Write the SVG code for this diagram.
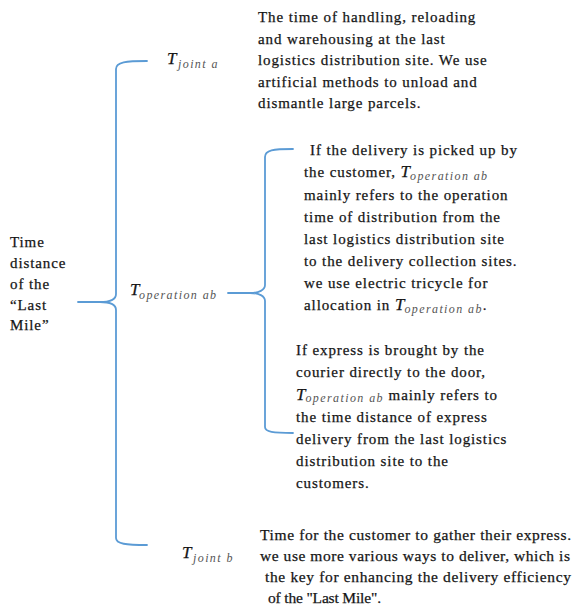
<svg xmlns="http://www.w3.org/2000/svg" width="575" height="608" viewBox="0 0 575 608">
<style>
.t{font-family:"Liberation Serif","Times New Roman",serif;font-size:15px;fill:#151515;stroke:#151515;stroke-width:0.25px;letter-spacing:0.9px}
.p4{font-size:15.5px;letter-spacing:0}
.m{font-family:"Liberation Serif","Times New Roman",serif;font-style:italic;font-size:17px;fill:#151515;stroke:#151515;stroke-width:0.25px;letter-spacing:0}
.s{font-family:"Liberation Serif","Times New Roman",serif;font-style:italic;font-size:12px;fill:#555;stroke:none;letter-spacing:1.4px}
.b{fill:none;stroke:#5b9bd5;stroke-width:1.8;stroke-linecap:round;stroke-linejoin:round}
</style>
<rect width="575" height="608" fill="#fff"/>
<g id="connectors">
<path class="b" d="M147,61 C126,61 116,62 116,69 L116,294 C116,299 110,302 100,302 L78,302 M100,302 C110,302 116,305 116,310 L116,538 C116,544 126,545 147,545"/>
<path class="b" d="M293,149 C273,149 265,150 265,157 L265,285 C265,290 259,293 250,293 L228,293 M250,293 C259,293 265,296 265,301 L265,427 C265,432 273,433 293,433"/>
</g>
<g id="root">
<text class="t"><tspan x="10" y="247">Time</tspan><tspan x="10" y="268">distance</tspan><tspan x="10" y="289">of the</tspan><tspan x="10" y="309.5">“Last</tspan><tspan x="10" y="330">Mile”</tspan></text>
</g>
<g id="t-joint-a">
<text x="167" y="64"><tspan class="m">T</tspan><tspan class="s" x="178" y="68">joint a</tspan></text>
</g>
<g id="t-operation-ab">
<text x="130" y="295"><tspan class="m">T</tspan><tspan class="s" x="139" y="299">operation ab</tspan></text>
</g>
<g id="t-joint-b">
<text x="182" y="558"><tspan class="m">T</tspan><tspan class="s" x="193" y="562">joint b</tspan></text>
</g>
<g id="desc-joint-a">
<text class="t"><tspan x="258" y="22">The time of handling, reloading</tspan><tspan x="258" y="43.5">and warehousing at the last</tspan><tspan x="258" y="65">logistics distribution site. We use</tspan><tspan x="258" y="86.5">artificial methods to unload and</tspan><tspan x="258" y="108">dismantle large parcels.</tspan></text>
</g>
<g id="desc-pickup">
<text class="t" x="310" y="154.5">If the delivery is picked up by</text>
<text class="t" x="304" y="177">the customer, <tspan class="m">T</tspan><tspan class="s" dy="2.5">operation ab</tspan></text>
<text class="t" x="304" y="199.5">mainly refers to the operation</text>
<text class="t" x="304" y="221.5">time of distribution from the</text>
<text class="t" x="304" y="243.5">last logistics distribution site</text>
<text class="t" x="304" y="265.5">to the delivery collection sites.</text>
<text class="t" x="304" y="287.5">we use electric tricycle for</text>
<text class="t" x="304" y="310">allocation in <tspan class="m">T</tspan><tspan class="s" dy="2.5">operation ab</tspan><tspan dy="-2.5">.</tspan></text>
</g>
<g id="desc-door">
<text class="t" x="296" y="355">If express is brought by the</text>
<text class="t" x="296" y="377">courier directly to the door,</text>
<text class="t" x="296" y="399.5"><tspan class="m">T</tspan><tspan class="s" dy="2.5">operation ab</tspan><tspan dy="-2.5"> mainly refers to</tspan></text>
<text class="t" x="296" y="421.5">the time distance of express</text>
<text class="t" x="296" y="443.5">delivery from the last logistics</text>
<text class="t" x="296" y="465.5">distribution site to the</text>
<text class="t" x="296" y="487.5">customers.</text>
</g>
<g id="desc-joint-b">
<text class="t p4" x="260" y="540" textLength="311">Time for the customer to gather their express.</text>
<text class="t p4" x="260" y="561" textLength="310">we use more various ways to deliver, which is</text>
<text class="t p4" x="265" y="582" textLength="306">the key for enhancing the delivery efficiency</text>
<text class="t p4" x="268" y="603" textLength="113">of the "Last Mile".</text>
</g>
</svg>
